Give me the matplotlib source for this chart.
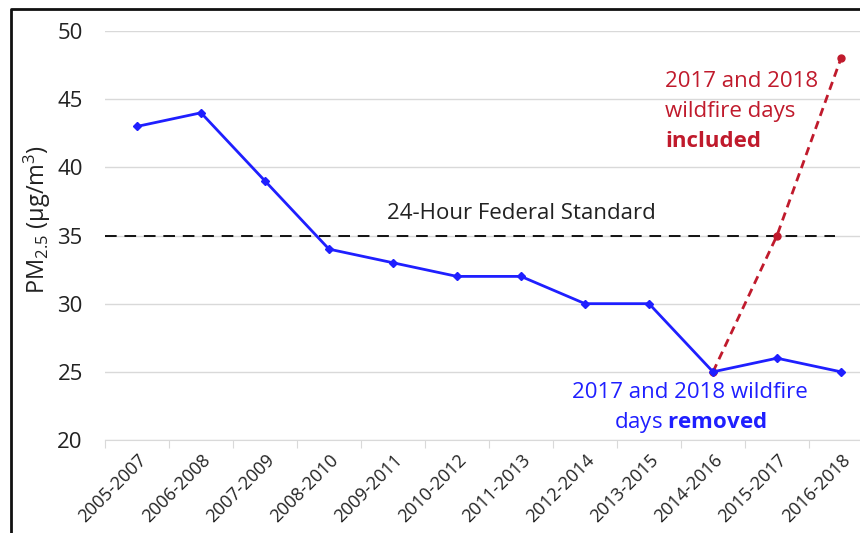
import numpy as np
import matplotlib
matplotlib.use("Agg")
import matplotlib.pyplot as plt
from matplotlib.lines import Line2D

plt.rcParams['font.family'] = ['Open Sans', 'DejaVu Sans']
plt.rcParams['mathtext.fontset'] = 'custom'
plt.rcParams['mathtext.rm'] = 'Open Sans'
plt.rcParams['mathtext.it'] = 'Open Sans:italic'
plt.rcParams['mathtext.bf'] = 'Open Sans:bold'

periods = ['2005-2007', '2006-2008', '2007-2009', '2008-2010', '2009-2011', '2010-2012',
           '2011-2013', '2012-2014', '2013-2015', '2014-2016', '2015-2017', '2016-2018']
removed = [43, 44, 39, 34, 33, 32, 32, 30, 30, 25, 26, 25]
included_idx = [9, 10, 11]
included = [25, 35, 48]
standard = 35

blue = '#1f1fff'
red = '#c01a2c'

fig = plt.figure(figsize=(8.6, 5.33), dpi=100)
ax = fig.add_axes([105/860, 1-440/533, 768/860, 409/533])

x = np.arange(len(periods))
ax.plot([-0.5, 10.9], [standard, standard], color='#111111', lw=1.4, dashes=(6, 4), zorder=2)
ax.plot(included_idx, included, color=red, lw=2, linestyle=(0, (3, 2)), marker='o', ms=5, zorder=3)
ax.plot(x, removed, color=blue, lw=2, marker='D', ms=4.5, zorder=4)

ax.set_xlim(-0.5, 11.5)
ax.set_ylim(20, 50)
ax.set_yticks(np.arange(20, 51, 5))
ax.yaxis.grid(True, color='#d9d9d9', lw=1)
ax.set_axisbelow(True)
for s in ['top', 'right', 'left']:
    ax.spines[s].set_visible(False)
ax.spines['bottom'].set_color('#d9d9d9')
ax.tick_params(axis='y', length=0, labelsize=16, pad=16, labelcolor='#222222')
ax.set_xticks(np.arange(-0.5, 11.6, 1))
ax.set_xticklabels([])
ax.set_xticks(x, minor=True)
ax.set_xticklabels(periods, minor=True, rotation=45, ha='right', rotation_mode='anchor', fontsize=13, color='#222222')
ax.tick_params(axis='x', which='major', length=6, color='#d9d9d9')
ax.tick_params(axis='x', which='minor', length=0, pad=8)

fig.text(37/860, 1-219/533, r'PM$_{2.5}$ (µg/m$^3$)', rotation=90, ha='center', va='center',
         fontsize=17, color='#222222')

ax.text(6.0, 36.65, '24-Hour Federal Standard', ha='center', va='center', fontsize=16, color='#222222')
ax.text(8.25, 46.26, '2017 and 2018', ha='left', va='center', fontsize=16, color=red)
ax.text(8.25, 44.06, 'wildfire days', ha='left', va='center', fontsize=16, color=red)
ax.text(8.25, 41.93, 'included', ha='left', va='center', fontsize=16, color=red, fontweight='bold')
ax.text(8.64, 23.45, '2017 and 2018 wildfire', ha='center', va='center', fontsize=16, color=blue)
ax.text(8.64, 21.25, r'days $\mathbf{removed}$', ha='center', va='center', fontsize=16, color=blue)

fig.add_artist(Line2D([11/860, 11/860, 1.0], [0, 1-9/533, 1-9/533], transform=fig.transFigure,
                      color='#111111', lw=2))

fig.savefig('out.png', dpi=100)
